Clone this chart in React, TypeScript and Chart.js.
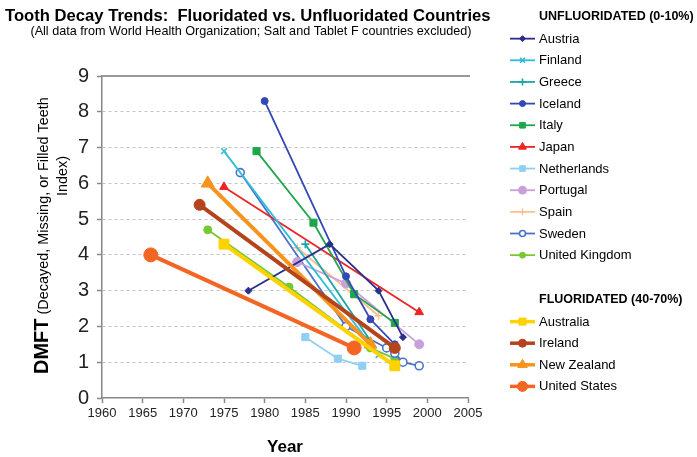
import React, { useEffect, useRef } from 'react';
import { Chart, registerables } from 'chart.js';
import { drawPoint } from 'chart.js/helpers';

Chart.register(...registerables);

// ---------- data ----------
const austriaYears = [1978, 1988, 1994, 1997];
const austriaDmft = [3.0, 4.3, 3.0, 1.7];
const finlandYears = [1975, 1994];
const finlandDmft = [6.9, 1.2];
const greeceYears = [1985, 1993];
const greeceDmft = [4.3, 1.6];
const icelandYears = [1980, 1990, 1993, 1996];
const icelandDmft = [8.3, 3.4, 2.2, 1.5];
const italyYears = [1979, 1986, 1991, 1996];
const italyDmft = [6.9, 4.9, 2.9, 2.1];
const japanYears = [1975, 1999];
const japanDmft = [5.9, 2.4];
const netherlandsYears = [1985, 1989, 1992];
const netherlandsDmft = [1.7, 1.1, 0.9];
const portugalYears = [1984, 1990, 1999];
const portugalDmft = [3.8, 3.2, 1.5];
const spainYears = [1984, 1994];
const spainDmft = [4.2, 2.3];
const swedenYears = [1977, 1990, 1995, 1996, 1997, 1999];
const swedenDmft = [6.3, 2.0, 1.4, 1.25, 1.0, 0.9];
const ukYears = [1973, 1983, 1993, 1996];
const ukDmft = [4.7, 3.1, 1.4, 1.1];

const australiaYears = [1975, 1996];
const australiaDmft = [4.3, 0.9];
const irelandYears = [1972, 1996];
const irelandDmft = [5.4, 1.4];
const newZealandYears = [1973, 1993];
const newZealandDmft = [6.0, 1.5];
const usYears = [1966, 1991];
const usDmft = [4.0, 1.4];

const unfluoridatedLabels = ['Austria', 'Finland', 'Greece', 'Iceland', 'Italy', 'Japan', 'Netherlands', 'Portugal', 'Spain', 'Sweden', 'United Kingdom'];
const fluoridatedLabels = ['Australia', 'Ireland', 'New Zealand', 'United States'];

const seriesData: Record<string, [number[], number[]]> = {
  Austria: [austriaYears, austriaDmft],
  Finland: [finlandYears, finlandDmft],
  Greece: [greeceYears, greeceDmft],
  Iceland: [icelandYears, icelandDmft],
  Italy: [italyYears, italyDmft],
  Japan: [japanYears, japanDmft],
  Netherlands: [netherlandsYears, netherlandsDmft],
  Portugal: [portugalYears, portugalDmft],
  Spain: [spainYears, spainDmft],
  Sweden: [swedenYears, swedenDmft],
  'United Kingdom': [ukYears, ukDmft],
  Australia: [australiaYears, australiaDmft],
  Ireland: [irelandYears, irelandDmft],
  'New Zealand': [newZealandYears, newZealandDmft],
  'United States': [usYears, usDmft],
};

const xTickYears = [1960, 1965, 1970, 1975, 1980, 1985, 1990, 1995, 2000, 2005];

const titleText = 'Tooth Decay Trends:  Fluoridated vs. Unfluoridated Countries';
const subtitleText = '(All data from World Health Organization; Salt and Tablet F countries excluded)';
const unfluorHeader = 'UNFLUORIDATED (0-10%)';
const fluorHeader = 'FLUORIDATED (40-70%)';

// ---------- styles ----------
type Style = { color: string; fill: string; marker: string; r: number; lr: number; w: number; lw: number; bw: number };
const styles: Record<string, Style> = {
  Austria: { color: '#2a2f8c', fill: '#2a2f8c', marker: 'rectRot', r: 3.5, lr: 3, w: 1.8, lw: 1.8, bw: 1 },
  Finland: { color: '#2fbcd8', fill: '#2fbcd8', marker: 'crossRot', r: 4, lr: 3.5, w: 1.8, lw: 1.8, bw: 1.6 },
  Greece: { color: '#1aa6a6', fill: '#1aa6a6', marker: 'cross', r: 4, lr: 3.5, w: 1.8, lw: 1.8, bw: 1.6 },
  Iceland: { color: '#3347b5', fill: '#3347b5', marker: 'circle', r: 3.5, lr: 3, w: 1.8, lw: 1.8, bw: 1 },
  Italy: { color: '#1fa64a', fill: '#1fa64a', marker: 'rect', r: 5, lr: 4, w: 1.8, lw: 1.8, bw: 1 },
  Japan: { color: '#ee2424', fill: '#ee2424', marker: 'triangle', r: 5, lr: 4.5, w: 1.8, lw: 1.8, bw: 1 },
  Netherlands: { color: '#8fd0f2', fill: '#8fd0f2', marker: 'rect', r: 5, lr: 4, w: 1.8, lw: 1.8, bw: 1 },
  Portugal: { color: '#c8a0dc', fill: '#c8a0dc', marker: 'circle', r: 4.5, lr: 4, w: 1.8, lw: 1.8, bw: 1 },
  Spain: { color: '#fcbf90', fill: '#fcbf90', marker: 'cross', r: 4, lr: 3.5, w: 1.8, lw: 1.8, bw: 1.4 },
  Sweden: { color: '#4a74c8', fill: '#ffffff', marker: 'circle', r: 4, lr: 3, w: 1.8, lw: 1.8, bw: 1.6 },
  'United Kingdom': { color: '#78c832', fill: '#78c832', marker: 'circle', r: 4, lr: 3, w: 1.8, lw: 1.8, bw: 1 },
  Australia: { color: '#ffd200', fill: '#ffd200', marker: 'rect', r: 7, lr: 5, w: 4, lw: 3.5, bw: 1 },
  Ireland: { color: '#b3441c', fill: '#b3441c', marker: 'circle', r: 5.5, lr: 4, w: 4, lw: 3.5, bw: 1 },
  'New Zealand': { color: '#f7941d', fill: '#f7941d', marker: 'triangle', r: 7.5, lr: 5.5, w: 4, lw: 3.5, bw: 1 },
  'United States': { color: '#f26522', fill: '#f26522', marker: 'circle', r: 7, lr: 5, w: 4, lw: 3.5, bw: 1 },
};

const FONT = '"Liberation Sans", Arial, sans-serif';

const decorPlugin = {
  id: 'decor',
  afterDraw(chart: any) {
    const ctx = chart.ctx as CanvasRenderingContext2D;
    const area = chart.chartArea;
    ctx.save();
    // top border of plot
    ctx.strokeStyle = '#999999';
    ctx.lineWidth = 2;
    ctx.beginPath();
    ctx.moveTo(area.left, area.top);
    ctx.lineTo(area.right + 2, area.top);
    ctx.stroke();

    // title
    ctx.fillStyle = '#000';
    ctx.textAlign = 'left';
    ctx.textBaseline = 'alphabetic';
    ctx.font = `bold 17px ${FONT}`;
    const tw = ctx.measureText(titleText).width;
    const ts = (17 * 486) / tw;
    ctx.font = `bold ${ts}px ${FONT}`;
    ctx.fillText(titleText, 5, 20.5);
    ctx.font = `12.5px ${FONT}`;
    const sw = ctx.measureText(subtitleText).width;
    ctx.font = `${(12.5 * 442) / sw}px ${FONT}`;
    ctx.textAlign = 'center';
    ctx.fillText(subtitleText, 251, 34.5);

    // y title
    ctx.save();
    ctx.translate(48, 374);
    ctx.rotate(-Math.PI / 2);
    ctx.textAlign = 'left';
    ctx.font = `bold 20px ${FONT}`;
    ctx.fillText('DMFT', 0, 0);
    const dw = ctx.measureText('DMFT').width;
    const rest = ' (Decayed, Missing, or Filled Teeth';
    ctx.font = `13.5px ${FONT}`;
    const rw = ctx.measureText(rest).width;
    const rs = (13.5 * (277 - dw)) / rw;
    ctx.font = `${rs}px ${FONT}`;
    ctx.fillText(rest, dw, 0);
    ctx.textAlign = 'center';
    ctx.fillText('Index)', 374 - 176, 19);
    ctx.restore();

    // x title
    ctx.textAlign = 'center';
    ctx.font = `bold 17px ${FONT}`;
    ctx.fillText('Year', 285, 452);

    // legend
    const drawGroup = (header: string, labels: string[], y0: number, step: number) => {
      ctx.textAlign = 'left';
      ctx.textBaseline = 'middle';
      ctx.fillStyle = '#000';
      ctx.font = `bold 12.5px ${FONT}`;
      ctx.fillText(header, 539, y0);
      labels.forEach((lab, i) => {
        const st = styles[lab];
        const y = y0 + step * (i + 1);
        ctx.strokeStyle = st.color;
        ctx.lineWidth = st.lw;
        ctx.setLineDash([]);
        ctx.beginPath();
        ctx.moveTo(510, y);
        ctx.lineTo(535, y);
        ctx.stroke();
        ctx.fillStyle = st.fill;
        ctx.strokeStyle = st.color;
        ctx.lineWidth = st.bw;
        drawPoint(ctx, { pointStyle: st.marker, radius: st.lr, rotation: 0, borderWidth: st.bw } as any, 522.5, y);
        ctx.fillStyle = '#000';
        ctx.font = `13px ${FONT}`;
        ctx.fillText(lab, 539, y + 0.5);
      });
    };
    drawGroup(unfluorHeader, unfluoridatedLabels, 17, 21.65);
    drawGroup(fluorHeader, fluoridatedLabels, 300, 21.6);
    ctx.restore();
  },
};

export default function App() {
  const ref = useRef<HTMLCanvasElement | null>(null);
  useEffect(() => {
    if (!ref.current) return;
    const order = [...fluoridatedLabels, ...unfluoridatedLabels];
    const datasets = order.map((lab) => {
      const [yrs, vals] = seriesData[lab];
      const st = styles[lab];
      return {
        label: lab,
        data: yrs.map((x, i) => ({ x, y: vals[i] })),
        borderColor: st.color,
        backgroundColor: st.fill,
        borderWidth: st.w,
        pointStyle: st.marker,
        pointRadius: st.r,
        pointHoverRadius: st.r,
        pointBackgroundColor: st.fill,
        pointBorderColor: st.color,
        pointBorderWidth: st.bw,
        tension: 0,
        fill: false,
      };
    });
    const chart = new Chart(ref.current, {
      type: 'line',
      data: { datasets: datasets as any },
      options: {
        responsive: false,
        animation: false,
        layout: { padding: { top: 76, right: 229, left: 0, bottom: 0 } },
        plugins: { legend: { display: false }, title: { display: false }, tooltip: { enabled: false } },
        scales: {
          x: {
            type: 'linear',
            min: 1960,
            max: 2005,
            afterFit: (s: any) => { s.height = 59; },
            afterBuildTicks: (s: any) => { s.ticks = xTickYears.map((v) => ({ value: v })); },
            ticks: { callback: (v: any) => String(v), font: { family: FONT, size: 13 }, color: '#222', padding: 3, maxRotation: 0 },
            grid: { drawOnChartArea: false, drawTicks: true, tickLength: 5, tickColor: '#888', tickWidth: 1.5 },
            border: { display: true, color: '#888', width: 1.5 },
          },
          y: {
            min: 0,
            max: 9,
            afterFit: (s: any) => { s.width = 102; },
            ticks: { stepSize: 1, font: { family: FONT, size: 20 }, color: '#222', padding: 8 },
            grid: {
              color: (c: any) => (c.tick && (c.tick.value === 0 || c.tick.value === 9) ? 'rgba(0,0,0,0)' : '#c4c4c4'),
              lineWidth: 1,
              drawTicks: true,
              tickLength: 5,
              tickColor: '#888',
              tickWidth: 1.5,
              tickBorderDash: [],
            },
            border: { display: true, color: '#888', width: 1.5, dash: [3, 3] },
          },
        },
      },
      plugins: [decorPlugin],
    });
    return () => chart.destroy();
  }, []);
  return (
    <canvas ref={ref} width={697} height={457} style={{ position: 'absolute', left: 0, top: 0, background: '#fff' }} />
  );
}
